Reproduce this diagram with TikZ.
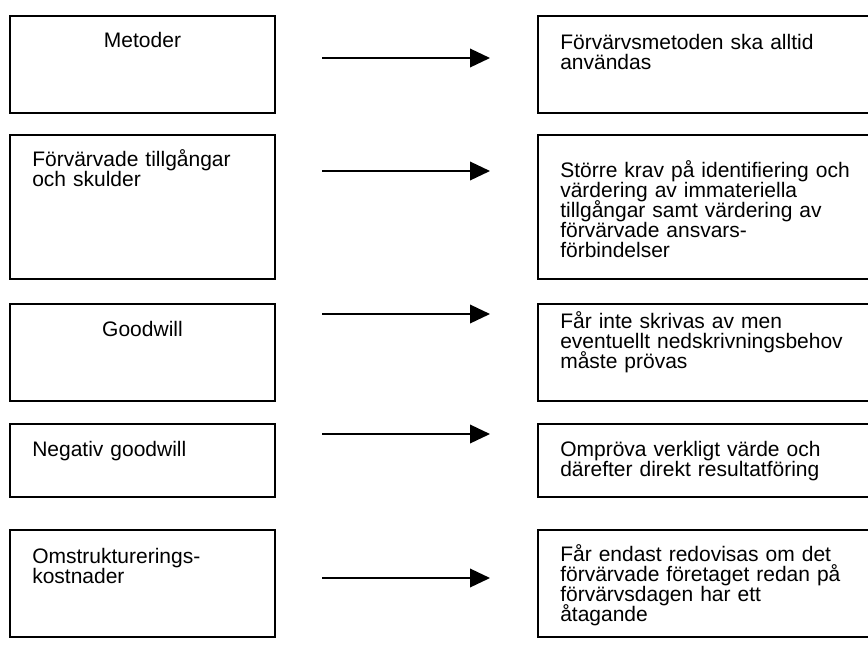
\documentclass[tikz,border=0pt]{standalone}
\usepackage{fontspec}
\setmainfont{Liberation Sans}
\usetikzlibrary{arrows.meta}

\begin{document}
\begin{tikzpicture}[x=0.75pt,y=-0.75pt,
	box/.style={draw, line width=1.3pt, inner sep=0pt, outer sep=0pt, anchor=north west},
	lbox/.style={box, minimum width=198.75pt},
	rbox/.style={box, minimum width=255pt},
	txt/.style={inner sep=0pt, font=\fontsize{15.75pt}{15pt}\selectfont,
		execute at begin node={\fontsize{15.75pt}{15pt}\selectfont\lineskiplimit=-20pt}},
	ltxt/.style={txt, anchor=base west, text width=190pt, align=left},
	rtxt/.style={txt, anchor=base west, text width=240pt, align=left},
	ctxt/.style={txt, anchor=base},
	arr/.style={line width=1.1pt, -{Triangle[length=15pt,width=14pt]}}]
	\useasboundingbox (0,0) rectangle (868,644);
	\node[lbox, minimum height=72.75pt] (lb1) at (10,16) {};
	\node[lbox, minimum height=108pt] (lb2) at (10,135) {};
	\node[lbox, minimum height=72.75pt] (lb3) at (10,304) {};
	\node[lbox, minimum height=54.75pt] (lb4) at (10,424) {};
	\node[lbox, minimum height=80.25pt] (lb5) at (10,530) {};
	\node[rbox, minimum height=72.75pt] (rb1) at (538,16) {};
	\node[rbox, minimum height=108pt] (rb2) at (538,135) {};
	\node[rbox, minimum height=72.75pt] (rb3) at (538,304) {};
	\node[rbox, minimum height=54.75pt] (rb4) at (538,424) {};
	\node[rbox, minimum height=80.25pt] (rb5) at (538,530) {};
	\node[ctxt] (lt1) at (142.5,47) {Metoder};
	\node[ltxt] (lt2) at (32,166) {Förvärvade tillgångar\\och skulder};
	\node[ctxt] (lt3) at (142.5,336) {Goodwill};
	\node[ltxt] (lt4) at (32,456) {Negativ goodwill};
	\node[ltxt] (lt5) at (32,563) {Omstrukturerings-\\kostnader};
	\node[rtxt] (rt1) at (560,49) {Förvärvsmetoden ska alltid\\användas};
	\node[rtxt] (rt2) at (560,177) {Större krav på identifiering och\\värdering av immateriella\\tillgångar samt värdering av\\förvärvade ansvars-\\förbindelser};
	\node[rtxt] (rt3) at (560,328) {Får inte skrivas av men\\eventuellt nedskrivningsbehov\\måste prövas};
	\node[rtxt] (rt4) at (560,456) {Ompröva verkligt värde och\\därefter direkt resultatföring};
	\node[rtxt] (rt5) at (560,561) {Får endast redovisas om det\\förvärvade företaget redan på\\förvärvsdagen har ett\\åtagande};
	\coordinate (a1s) at (322,58);
	\coordinate (a1e) at (490,58);
	\coordinate (a2s) at (322,171);
	\coordinate (a2e) at (490,171);
	\coordinate (a3s) at (322,314);
	\coordinate (a3e) at (490,314);
	\coordinate (a4s) at (322,434);
	\coordinate (a4e) at (490,434);
	\coordinate (a5s) at (322,578);
	\coordinate (a5e) at (490,578);
	\draw[arr] (a1s) -- (a1e);
	\draw[arr] (a2s) -- (a2e);
	\draw[arr] (a3s) -- (a3e);
	\draw[arr] (a4s) -- (a4e);
	\draw[arr] (a5s) -- (a5e);
\end{tikzpicture}
\end{document}
